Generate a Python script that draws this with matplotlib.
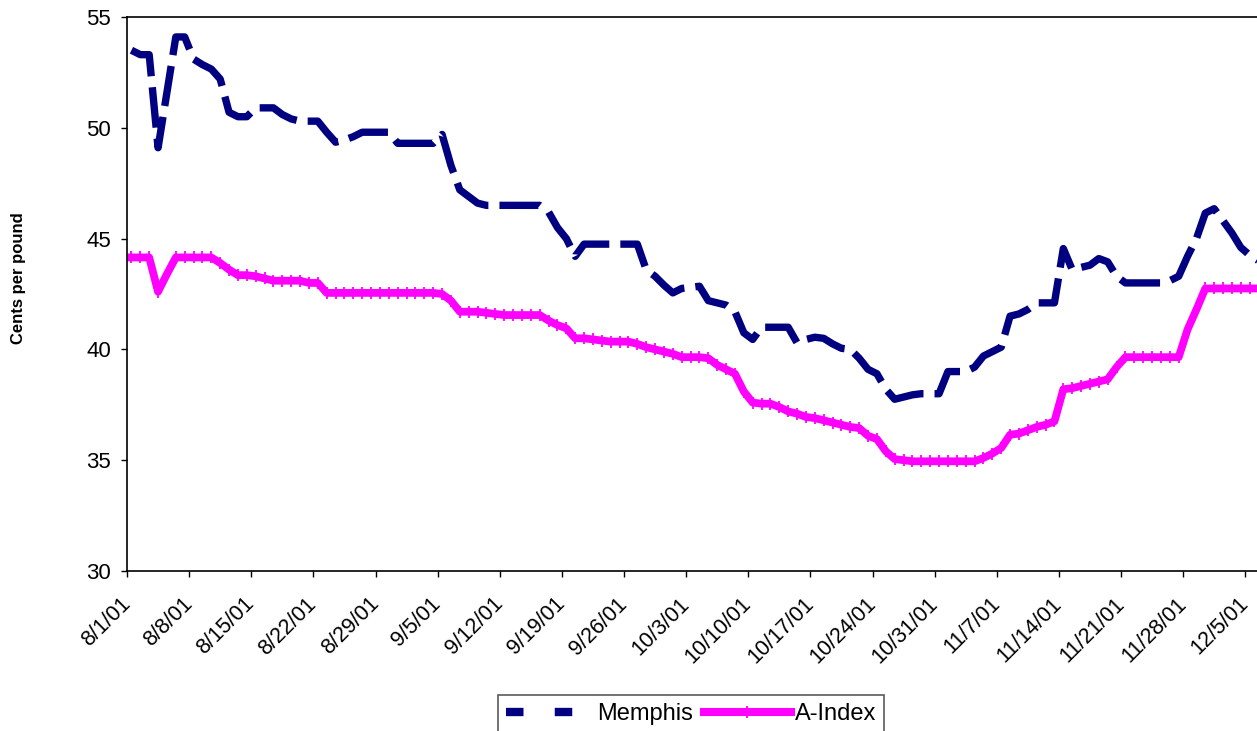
import numpy as np
import pandas as pd
import matplotlib
matplotlib.use("Agg")
import matplotlib.pyplot as plt
from matplotlib.lines import Line2D

NAVY    = "#000080"
MAGENTA = "#FF00FF"

plt.rcParams["font.family"] = ["Liberation Sans", "DejaVu Sans"]

# Daily quotes, cents per pound, starting 8/1/01 (one row per week)
start_date = "2001-08-01"
memphis = [
    53.5, 53.3, 53.3, 49.1, 51.6, 54.1, 54.1,
    53.1, 52.85, 52.65, 52.2, 50.7, 50.5, 50.5,
    50.9, 50.9, 50.9, 50.6, 50.4, 50.3, 50.3,
    50.3, 49.8, 49.35, 49.45, 49.6, 49.8, 49.8,
    49.8, 49.8, 49.3, 49.3, 49.3, 49.3, 49.3,
    49.7, 48.3, 47.2, 46.9, 46.6, 46.5, 46.5,
    46.5, 46.5, 46.5, 46.5, 46.5, 46.2, 45.5,
    45.0, 44.2, 44.75, 44.75, 44.75, 44.75, 44.75,
    44.75, 44.75, 43.6, 43.3, 42.9, 42.55, 42.75,
    42.8, 42.85, 42.2, 42.1, 42.0, 41.7, 40.75,
    40.45, 41.0, 41.0, 41.0, 41.0, 40.3, 40.45,
    40.55, 40.5, 40.25, 40.05, 40.0, 39.6, 39.1,
    38.9, 38.2, 37.75, 37.85, 37.95, 38.0, 38.0,
    38.0, 39.0, 39.0, 39.0, 39.2, 39.7, 39.9,
    40.1, 41.5, 41.6, 41.8, 42.1, 42.1, 42.1,
    44.55, 43.6, 43.7, 43.8, 44.1, 43.95, 43.3,
    43.0, 43.0, 43.0, 43.0, 43.0, 43.1, 43.3,
    44.2, 45.0, 46.15, 46.35, 45.8, 45.25, 44.6,
    44.25, 44.0,
]
a_index = [
    44.15, 44.15, 44.15, 42.6, 43.4, 44.15, 44.15,
    44.15, 44.15, 44.15, 43.9, 43.6, 43.35, 43.35,
    43.3, 43.2, 43.1, 43.1, 43.1, 43.1, 43.0,
    43.0, 42.55, 42.55, 42.55, 42.55, 42.55, 42.55,
    42.55, 42.55, 42.55, 42.55, 42.55, 42.55, 42.55,
    42.5, 42.2, 41.7, 41.7, 41.7, 41.65, 41.6,
    41.55, 41.55, 41.55, 41.55, 41.55, 41.3, 41.1,
    40.95, 40.5, 40.5, 40.45, 40.4, 40.35, 40.35,
    40.35, 40.25, 40.1, 40.0, 39.9, 39.8, 39.65,
    39.65, 39.65, 39.6, 39.3, 39.1, 38.9, 38.1,
    37.6, 37.55, 37.55, 37.4, 37.2, 37.1, 36.95,
    36.9, 36.8, 36.7, 36.6, 36.5, 36.45, 36.1,
    35.95, 35.4, 35.05, 35.0, 34.95, 34.95, 34.95,
    34.95, 34.95, 34.95, 34.95, 34.95, 35.1, 35.3,
    35.55, 36.15, 36.2, 36.35, 36.5, 36.6, 36.75,
    38.2, 38.25, 38.35, 38.45, 38.55, 38.65, 39.2,
    39.65, 39.65, 39.65, 39.65, 39.65, 39.65, 39.65,
    40.9, 41.8, 42.75, 42.75, 42.75, 42.75, 42.75,
    42.75, 42.75,
]
y_ticks = [30, 35, 40, 45, 50, 55]

dates = pd.date_range(start_date, periods=len(memphis), freq="D")
# points sit in the middle of each day slot, like the original date axis
x = dates + pd.Timedelta(hours=12)

fig = plt.figure(figsize=(12.57, 7.31), dpi=100)
# right edge of the plot runs past the picture, as in the reference
ax = fig.add_axes([127 / 1257, 1 - 571 / 731, 1136 / 1257, 554 / 731])

ax.plot(x, memphis, color=NAVY, linewidth=5.3, dashes=(5.5, 1.5),
        solid_capstyle="butt", dash_capstyle="butt", label="Memphis")
ax.plot(x, a_index, color=MAGENTA, linewidth=5.6, marker="|",
        markersize=9, markeredgewidth=1.3, label="A-Index")

ax.set_ylim(30, 55)
ax.set_yticks(y_ticks)
ax.set_xlim(dates[0], dates[0] + pd.Timedelta(days=128))
ticks = pd.date_range(start_date, "2001-12-05", freq="7D")
ax.set_xticks(ticks)
ax.set_xticklabels([f"{d.month}/{d.day}/{d.strftime('%y')}" for d in ticks],
                   rotation=45, ha="right", va="center", rotation_mode="anchor")

for side in ["left", "top", "bottom", "right"]:
    ax.spines[side].set_linewidth(1.2)
    ax.spines[side].set_color("black")
ax.tick_params(axis="both", direction="out", length=4.5, width=1.0,
               colors="black")
ax.tick_params(axis="x", labelsize=15.5, pad=17)
ax.tick_params(axis="y", labelsize=16, pad=7)

fig.text(19 / 1257, 1 - 278 / 731, "Cents per pound", rotation=90,
         ha="center", va="center", fontsize=12, fontweight="bold")

memphis_handle = Line2D([], [], color=NAVY, linewidth=6, dashes=(2.1, 3.75))
aindex_handle = Line2D([], [], color=MAGENTA, linewidth=5.8, marker="|",
                       markersize=9, markeredgewidth=1.3)
leg = fig.legend([memphis_handle, aindex_handle], ["Memphis", "A-Index"],
                 loc="upper left", bbox_to_anchor=(498 / 1257, 1 - 695 / 731),
                 ncol=2, fontsize=17, frameon=True, fancybox=False,
                 edgecolor="#303030", handlelength=3.7, handletextpad=0.15,
                 columnspacing=0.45, borderaxespad=0, borderpad=0.35,
                 numpoints=1)
leg.get_frame().set_linewidth(1.2)

fig.savefig("out.png", dpi=100)
